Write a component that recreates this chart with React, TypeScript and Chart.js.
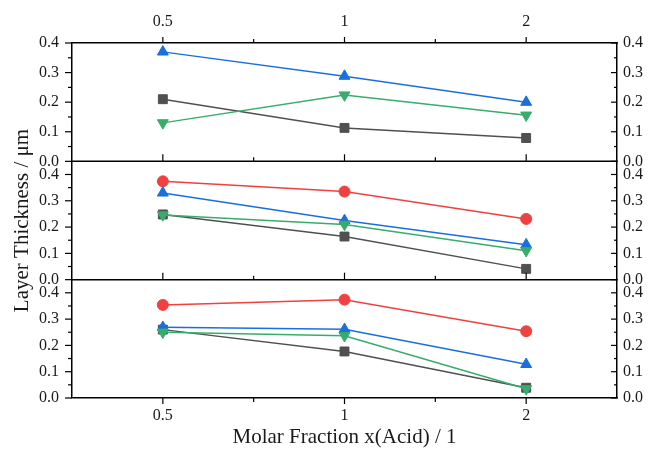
import React, { useEffect, useRef } from "react";
import { Chart, registerables } from "chart.js";

Chart.register(...registerables);

const categories = ["0.5", "1", "2"];
const yTickValues = [0, 0.1, 0.2, 0.3, 0.4];

// Top panel
const topBlack = [0.21, 0.113, 0.079];
const topBlue = [0.37, 0.288, 0.2];
const topGreen = [0.13, 0.224, 0.156];

// Middle panel
const midRed = [0.374, 0.335, 0.231];
const midBlue = [0.33, 0.225, 0.133];
const midGreen = [0.246, 0.21, 0.11];
const midBlack = [0.248, 0.164, 0.041];

// Bottom panel
const botRed = [0.354, 0.374, 0.254];
const botBlue = [0.269, 0.261, 0.128];
const botGreen = [0.25, 0.237, 0.035];
const botBlack = [0.26, 0.177, 0.039];

const panelMax = [0.4, 0.45, 0.45];

const C_BLACK = "#505050";
const C_RED = "#F14040";
const C_BLUE = "#1A6FDF";
const C_GREEN = "#37AD6B";

const FONT = "Liberation Serif";

type Kind = "black" | "red" | "blue" | "green";

function series(kind: Kind, data: number[], yAxisID: string) {
  const color = { black: C_BLACK, red: C_RED, blue: C_BLUE, green: C_GREEN }[kind];
  const style = { black: "rect", red: "circle", blue: "triangle", green: "triangle" }[kind];
  const radius = { black: 6.3, red: 5.5, blue: 6.3, green: 6.3 }[kind];
  const order = { green: 0, blue: 1, red: 2, black: 3 }[kind];
  return {
    label: kind,
    data,
    yAxisID,
    xAxisID: "x",
    borderColor: color,
    backgroundColor: color,
    pointBackgroundColor: color,
    pointBorderColor: color,
    borderWidth: 1.5,
    pointBorderWidth: 1,
    pointStyle: style,
    pointRadius: radius,
    pointRotation: kind === "green" ? 180 : 0,
    tension: 0,
    order,
  };
}

const framePlugin = {
  id: "frame",
  afterDatasetsDraw(chart: any) {
    const ctx = chart.ctx;
    const { left, right, top, bottom } = chart.chartArea;
    const xs = chart.scales.x;
    const lefts = ["y1", "y2", "y3"].map((id) => chart.scales[id]);
    const rights = ["r1", "r2", "r3"].map((id) => chart.scales[id]);
    const line = (x1: number, y1: number, x2: number, y2: number) => {
      ctx.beginPath();
      ctx.moveTo(x1, y1);
      ctx.lineTo(x2, y2);
      ctx.stroke();
    };
    ctx.save();
    ctx.strokeStyle = "#000";
    ctx.lineWidth = 1.5;
    // separators between panels
    for (let i = 0; i < lefts.length - 1; i++) {
      line(left - 0.75, lefts[i].bottom, right + 0.75, lefts[i].bottom);
    }
    ctx.lineWidth = 1.2;
    // y ticks
    for (let i = 0; i < 3; i++) {
      for (let k = 0; k <= 8; k++) {
        const v = k * 0.05;
        const major = k % 2 === 0;
        const pl = lefts[i].getPixelForValue(v);
        line(left - (major ? 7 : 4), pl, left, pl);
        const pr = rights[i].getPixelForValue(v);
        line(right - (major ? 6 : 3), pr, right, pr);
      }
    }
    // x ticks
    const pos: number[] = categories.map((_, i) => xs.getPixelForValue(i));
    const xt: { p: number; major: boolean }[] = [];
    pos.forEach((p, i) => {
      xt.push({ p, major: true });
      if (i < pos.length - 1) xt.push({ p: (p + pos[i + 1]) / 2, major: false });
    });
    for (const t of xt) {
      const lenOut = t.major ? 6 : 4;
      const lenIn = t.major ? 7 : 4;
      line(t.p, top, t.p, top - lenOut);
      line(t.p, bottom, t.p, bottom + lenOut);
      for (let i = 0; i < lefts.length - 1; i++) {
        const yy = lefts[i].bottom;
        line(t.p, yy, t.p, yy - lenIn);
      }
    }
    ctx.restore();
  },
};

function yAxis(position: "left" | "right", max: number, weight: number, extra: any = {}) {
  return {
    type: "linear",
    position,
    stack: position === "left" ? "L" : "R",
    stackWeight: 1,
    weight,
    min: 0,
    max,
    grid: { display: true, drawOnChartArea: false, drawTicks: false },
    border: { display: true, color: "#000", width: 1.5 },
    ticks: {
      stepSize: 0.1,
      includeBounds: false,
      autoSkip: false,
      padding: position === "left" ? 13 : 6,
      color: "#1a1a1a",
      font: { family: FONT, size: 16 },
      callback: (v: number) => Number(v).toFixed(1),
    },
    afterBuildTicks: (scale: any) => {
      scale.ticks = yTickValues.filter((v) => v <= max + 1e-9).map((v) => ({ value: v }));
    },
    afterFit: (scale: any) => {
      scale.width = position === "left" ? 72 : 33;
    },
    ...extra,
  };
}

export default function App() {
  const ref = useRef<HTMLCanvasElement | null>(null);
  useEffect(() => {
    if (!ref.current) return;
    const chart = new Chart(ref.current, {
      type: "line",
      data: {
        labels: categories,
        datasets: [
          series("black", topBlack, "y1"),
          series("blue", topBlue, "y1"),
          series("green", topGreen, "y1"),
          series("red", midRed, "y2"),
          series("blue", midBlue, "y2"),
          series("green", midGreen, "y2"),
          series("black", midBlack, "y2"),
          series("red", botRed, "y3"),
          series("blue", botBlue, "y3"),
          series("green", botGreen, "y3"),
          series("black", botBlack, "y3"),
        ] as any,
      },
      options: {
        animation: false,
        responsive: false,
        maintainAspectRatio: false,
        layout: { padding: 0 },
        plugins: { legend: { display: false }, tooltip: { enabled: false } },
        scales: {
          x: {
            type: "category",
            position: "bottom",
            offset: true,
            grid: { display: true, drawOnChartArea: false, drawTicks: false },
            border: { display: true, color: "#000", width: 1.5 },
            ticks: { padding: 8, color: "#1a1a1a", font: { family: FONT, size: 16 } },
            title: {
              display: true,
              text: "Molar Fraction x(Acid) / 1",
              color: "#1a1a1a",
              font: { family: FONT, size: 21 },
              padding: { top: 0, bottom: 1 },
            },
            afterFit: (s: any) => {
              s.height = 53;
            },
          },
          x2: {
            type: "category",
            position: "top",
            labels: categories,
            offset: true,
            grid: { display: true, drawOnChartArea: false, drawTicks: false },
            border: { display: true, color: "#000", width: 1.5 },
            ticks: { padding: 12, color: "#1a1a1a", font: { family: FONT, size: 16 } },
            afterFit: (s: any) => {
              s.height = 43;
            },
          },
          y1: yAxis("left", panelMax[0], 3),
          y2: yAxis("left", panelMax[1], 2, {
            title: {
              display: true,
              text: "Layer Thickness / μm",
              color: "#1a1a1a",
              font: { family: FONT, size: 21 },
              padding: { top: 10, bottom: 0 },
            },
          }),
          y3: yAxis("left", panelMax[2], 1),
          r1: yAxis("right", panelMax[0], 1),
          r2: yAxis("right", panelMax[1], 2),
          r3: yAxis("right", panelMax[2], 3),
        } as any,
      },
      plugins: [framePlugin],
    });
    return () => chart.destroy();
  }, []);
  return (
    <div style={{ position: "fixed", left: 0, top: 0, width: 650, height: 451, background: "#fff" }}>
      <canvas ref={ref} width={650} height={451} style={{ display: "block", width: 650, height: 451 }} />
    </div>
  );
}
